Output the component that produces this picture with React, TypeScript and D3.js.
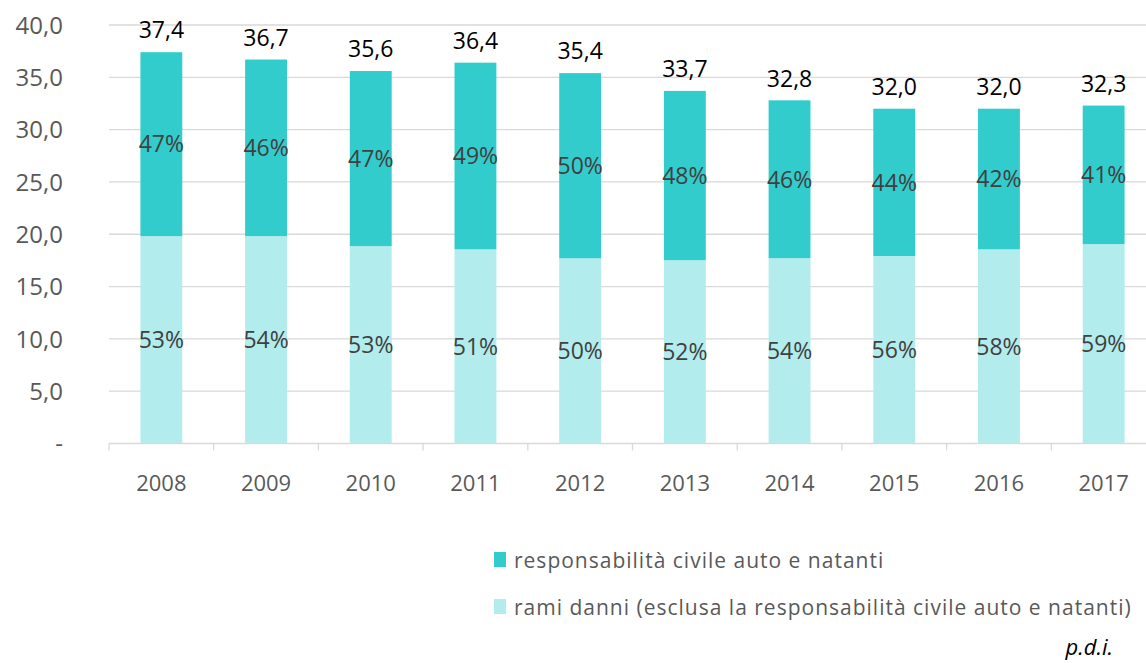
import React, { useRef, useEffect } from 'react';
import * as d3 from 'd3';

const years = ['2008', '2009', '2010', '2011', '2012', '2013', '2014', '2015', '2016', '2017'];
const totals = [37.4, 36.7, 35.6, 36.4, 35.4, 33.7, 32.8, 32.0, 32.0, 32.3];
const rcPct = [47, 46, 47, 49, 50, 48, 46, 44, 42, 41];
const altriPct = [53, 54, 53, 51, 50, 52, 54, 56, 58, 59];
const yTicks = [0, 5, 10, 15, 20, 25, 30, 35, 40];
const legendLabels = [
  'responsabilità civile auto e natanti',
  'rami danni (esclusa la responsabilità civile auto e natanti)',
];

const W = 1146;
const H = 663;
const FONT = '"Open Sans", "Noto Sans", sans-serif';

const App = () => {
  const ref = useRef(null);

  useEffect(() => {
    const root = d3.select(ref.current);
    root.selectAll('*').remove();

    const svg = root.append('svg').attr('width', W).attr('height', H).style('display', 'block');

    const x = d3.scaleBand().domain(years).range([109, 109 + 104.7 * 10]).paddingInner(0.6).paddingOuter(0.3);
    const y = d3.scaleLinear().domain([0, 40]).range([443.5, 25]);

    const fmt = (v) => (v === 0 ? '-' : d3.format('.1f')(v).replace('.', ','));

    // gridlines
    svg.append('g').selectAll('line').data(yTicks.filter(t => t > 0)).enter().append('line')
      .attr('x1', 109).attr('x2', W).attr('y1', d => y(d)).attr('y2', d => y(d))
      .attr('stroke', '#d9d9d9').attr('stroke-width', 1.3);

    // y labels
    svg.append('g').selectAll('text').data(yTicks).enter().append('text')
      .attr('x', 63).attr('y', d => y(d)).attr('dy', '0.36em')
      .attr('text-anchor', 'end').attr('fill', '#595959')
      .style('font-family', FONT).style('font-size', '24px')
      .text(d => fmt(d));

    const rows = years.map((yr, i) => {
      const base = +(totals[i] * altriPct[i] / 100).toFixed(2);
      return { yr, total: totals[i], base, rc: rcPct[i], altri: altriPct[i] };
    });

    // bottom segment
    svg.append('g').selectAll('rect').data(rows).enter().append('rect')
      .attr('x', d => x(d.yr)).attr('width', x.bandwidth())
      .attr('y', d => y(d.base)).attr('height', d => y(0) - y(d.base))
      .attr('fill', '#b2ecec');

    // top segment
    svg.append('g').selectAll('rect').data(rows).enter().append('rect')
      .attr('x', d => x(d.yr)).attr('width', x.bandwidth())
      .attr('y', d => y(d.total)).attr('height', d => y(d.base) - y(d.total))
      .attr('fill', '#33cccc');

    // x axis line and ticks
    const axis = svg.append('g');
    axis.append('line').attr('x1', 109).attr('x2', W).attr('y1', y(0)).attr('y2', y(0))
      .attr('stroke', '#d9d9d9').attr('stroke-width', 1.3);
    const step = x.step();
    axis.selectAll('.tk').data(d3.range(11)).enter().append('line')
      .attr('x1', i => 109 + i * step).attr('x2', i => 109 + i * step)
      .attr('y1', y(0)).attr('y2', y(0) + 7)
      .attr('stroke', '#d9d9d9').attr('stroke-width', 1.3);

    // year labels
    svg.append('g').selectAll('text').data(years).enter().append('text')
      .attr('x', d => x(d) + x.bandwidth() / 2).attr('y', 483).attr('dy', '0.36em')
      .attr('text-anchor', 'middle').attr('fill', '#595959')
      .style('font-family', FONT).style('font-size', '22px')
      .text(d => d);

    const labels = svg.append('g').style('font-family', FONT).style('font-size', '23px');

    // totals
    labels.selectAll('.tot').data(rows).enter().append('text')
      .attr('x', d => x(d.yr) + x.bandwidth() / 2).attr('y', d => y(d.total) - 22).attr('dy', '0.36em')
      .attr('text-anchor', 'middle').attr('fill', '#000')
      .text(d => fmt(d.total));

    // percent labels
    labels.selectAll('.top').data(rows).enter().append('text')
      .attr('x', d => x(d.yr) + x.bandwidth() / 2).attr('y', d => y((d.total + d.base) / 2)).attr('dy', '0.36em')
      .attr('text-anchor', 'middle').attr('fill', '#404040')
      .text(d => d.rc + '%');
    labels.selectAll('.bot').data(rows).enter().append('text')
      .attr('x', d => x(d.yr) + x.bandwidth() / 2).attr('y', d => y(d.base / 2)).attr('dy', '0.36em')
      .attr('text-anchor', 'middle').attr('fill', '#404040')
      .text(d => d.altri + '%');

    // legend
    const colors = ['#33cccc', '#b2ecec'];
    const leg = svg.append('g');
    legendLabels.forEach((l, i) => {
      const cy = 560 + i * 47;
      leg.append('rect').attr('x', 494).attr('y', cy - 8).attr('width', 12).attr('height', 15).attr('fill', colors[i]);
      leg.append('text').attr('x', 514).attr('y', cy).attr('dy', '0.36em')
        .attr('fill', '#595959').style('font-family', FONT).style('font-size', '21px')
        .style('letter-spacing', '1px')
        .text(l);
    });

    svg.append('text').attr('x', 1113).attr('y', 647).attr('dy', '0.36em')
      .attr('text-anchor', 'end').attr('fill', '#000')
      .style('font-family', FONT).style('font-size', '22px').style('font-style', 'italic')
      .text('p.d.i.');
  }, []);

  return <div ref={ref} style={{ position: 'absolute', left: 0, top: 0 }}></div>;
};

export default App;
